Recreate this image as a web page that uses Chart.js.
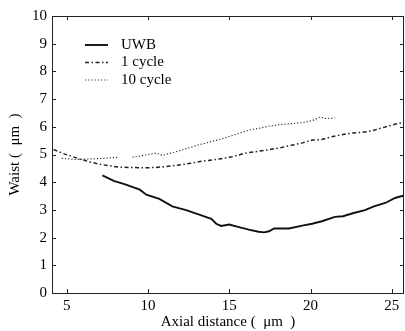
<script src="https://cdn.jsdelivr.net/npm/chart.js"></script>
<style>
  body { margin: 0; background: #fff; }
  #wrap { width: 405px; height: 331px; }
</style>
<div id="wrap"><canvas id="waistChart"></canvas></div>
<script>
// waist vs axial distance
const uwbX = [7.2, 7.9, 8.6, 9.5, 9.9, 10.7, 11.5, 12.35, 13.2, 13.9, 14.2, 14.5, 15.0, 15.6, 16.2, 16.8, 17.15, 17.45, 17.76, 18.67, 19.5, 20.1, 20.7, 21.5, 22.0, 22.6, 23.35, 23.9, 24.6, 25.2, 25.75];
const uwbY = [4.25, 4.05, 3.92, 3.73, 3.55, 3.40, 3.13, 2.99, 2.82, 2.68, 2.50, 2.42, 2.47, 2.38, 2.29, 2.21, 2.19, 2.23, 2.33, 2.33, 2.43, 2.50, 2.59, 2.75, 2.77, 2.88, 2.99, 3.13, 3.25, 3.43, 3.52];

const oneCycleX = [4.2, 4.8, 5.8, 6.5, 7.0, 7.8, 8.3, 9.0, 9.7, 10.4, 11.1, 11.9, 12.6, 13.2, 14.4, 15.2, 16.0, 16.6, 17.3, 18.1, 18.9, 19.5, 20.1, 20.7, 21.3, 22.0, 22.6, 23.2, 23.8, 24.4, 25.0, 25.75];
const oneCycleY = [5.18, 5.03, 4.84, 4.72, 4.65, 4.58, 4.54, 4.53, 4.52, 4.53, 4.56, 4.62, 4.68, 4.75, 4.84, 4.92, 5.05, 5.10, 5.16, 5.24, 5.34, 5.42, 5.52, 5.54, 5.64, 5.72, 5.78, 5.80, 5.86, 5.96, 6.06, 6.17];

const tenCycleX = [4.7, 5.5, 6.5, 7.3, 8.2, 8.6, 9.05, 9.8, 10.5, 10.9, 11.6, 12.4, 13.2, 14.4, 15.6, 16.2, 16.8, 17.5, 18.0, 18.9, 19.6, 20.1, 20.6, 20.9, 21.5];
const tenCycleY = [4.86, 4.82, 4.84, 4.86, 4.90, null, 4.90, 4.98, 5.05, 4.97, 5.08, 5.22, 5.36, 5.54, 5.76, 5.88, 5.94, 6.03, 6.07, 6.12, 6.16, 6.22, 6.35, 6.30, 6.32];

const seriesNames = ["UWB", "1 cycle", "10 cycle"];
const xTicks = [5, 10, 15, 20, 25];
const yTicks = [0, 1, 2, 3, 4, 5, 6, 7, 8, 9, 10];

const serif = "'Liberation Serif', 'Times New Roman', serif";

function pts(xs, ys) {
    return xs.map((x, i) => ({ x: x, y: ys[i] }));
}

// inward ticks + frame, matlab style
const frameTicks = {
    id: 'frameTicks',
    afterDraw(chart) {
        const ctx = chart.ctx;
        const a = chart.chartArea;
        const xs = chart.scales.x, ys = chart.scales.y;
        ctx.save();
        ctx.strokeStyle = '#222';
        ctx.lineWidth = 1;
        ctx.strokeRect(a.left + 0.5, a.top + 0.5, a.right - a.left - 1, a.bottom - a.top);
        ctx.beginPath();
        xTicks.forEach(v => {
            const px = Math.round(xs.getPixelForValue(v)) + 0.5;
            ctx.moveTo(px, a.bottom); ctx.lineTo(px, a.bottom - 4);
            ctx.moveTo(px, a.top); ctx.lineTo(px, a.top + 4);
        });
        yTicks.forEach(v => {
            const py = Math.round(ys.getPixelForValue(v)) + 0.5;
            ctx.moveTo(a.left, py); ctx.lineTo(a.left + 4, py);
            ctx.moveTo(a.right, py); ctx.lineTo(a.right - 4, py);
        });
        ctx.stroke();
        ctx.restore();
    }
};

// legend sits inside the axes, top left
const innerLegend = {
    id: 'innerLegend',
    afterDraw(chart) {
        const ctx = chart.ctx;
        ctx.save();
        ctx.font = '15px ' + serif;
        ctx.textBaseline = 'middle';
        ctx.fillStyle = '#000';
        chart.data.datasets.forEach((ds, i) => {
            const y = 45 + i * 17.5;
            ctx.beginPath();
            ctx.strokeStyle = ds.borderColor;
            ctx.lineWidth = ds.borderWidth;
            ctx.setLineDash(ds.borderDash || []);
            ctx.moveTo(85, y); ctx.lineTo(108, y);
            ctx.stroke();
            ctx.setLineDash([]);
            ctx.fillText(ds.label, 121, y);
        });
        ctx.restore();
    }
};

new Chart(document.getElementById('waistChart'), {
    type: 'line',
    data: {
        datasets: [
            {
                label: seriesNames[0],
                data: pts(uwbX, uwbY),
                borderColor: '#111',
                borderWidth: 1.9,
                pointRadius: 0,
                tension: 0
            },
            {
                label: seriesNames[1],
                data: pts(oneCycleX, oneCycleY),
                borderColor: '#222',
                borderWidth: 1.5,
                borderDash: [4, 2.5, 1.5, 2.5],
                pointRadius: 0,
                tension: 0
            },
            {
                label: seriesNames[2],
                data: pts(tenCycleX, tenCycleY),
                borderColor: '#333',
                borderWidth: 1.2,
                borderDash: [1.2, 2],
                pointRadius: 0,
                spanGaps: false,
                tension: 0
            }
        ]
    },
    options: {
        responsive: true,
        maintainAspectRatio: false,
        animation: false,
        devicePixelRatio: 1,
        layout: { padding: { top: 16, right: 1, left: 0, bottom: 0 } },
        plugins: {
            legend: { display: false },
            tooltip: { enabled: false }
        },
        scales: {
            x: {
                type: 'linear',
                min: 4.1,
                max: 25.75,
                afterBuildTicks(s) { s.ticks = xTicks.map(v => ({ value: v })); },
                afterFit(s) {
                    s.height = 38;
                    s.paddingLeft = 0;
                    s.paddingRight = 0;
                },
                ticks: {
                    includeBounds: false,
                    maxRotation: 0,
                    autoSkip: false,
                    padding: 4,
                    color: '#000',
                    font: { family: serif, size: 15 }
                },
                grid: { display: false, drawTicks: false },
                border: { display: false },
                title: {
                    display: true,
                    text: 'Axial distance (\u2002\u03bcm\u2002)',
                    color: '#000',
                    font: { family: serif, size: 15 },
                    padding: { top: 0, bottom: 0 }
                }
            },
            y: {
                min: 0,
                max: 10,
                afterBuildTicks(s) { s.ticks = yTicks.map(v => ({ value: v })); },
                afterFit(s) {
                    s.width = 52;
                    s.paddingTop = 0;
                    s.paddingBottom = 0;
                },
                ticks: {
                    padding: 5,
                    color: '#000',
                    font: { family: serif, size: 15 }
                },
                grid: { display: false, drawTicks: false },
                border: { display: false },
                title: {
                    display: true,
                    text: 'Waist (\u2002\u03bcm\u2002)',
                    color: '#000',
                    font: { family: serif, size: 15 },
                    padding: { top: 6, bottom: 0 }
                }
            }
        }
    },
    plugins: [frameTicks, innerLegend]
});
</script>
